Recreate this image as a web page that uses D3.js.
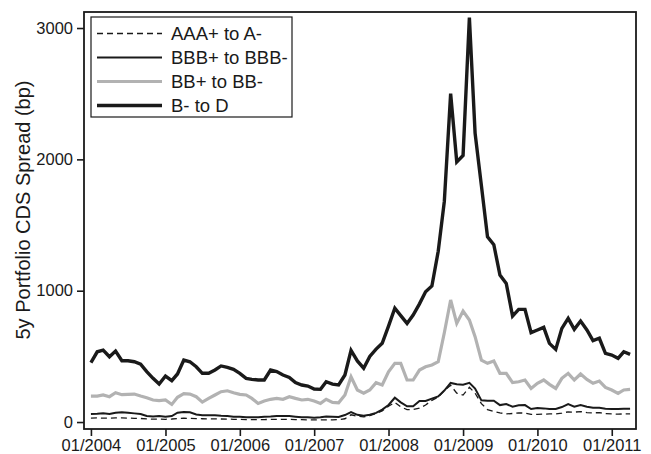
<!DOCTYPE html>
<html>
<head>
<meta charset="utf-8">
<script src="https://cdn.jsdelivr.net/npm/d3@7/dist/d3.min.js"></script>
<style>
  body { margin: 0; background: #fff; }
  text { font-family: "Liberation Sans", Arial, sans-serif; fill: #1a1a1a; }
</style>
</head>
<body>
<div id="chart"></div>
<script>
// monthly observations, 01/2004 .. 04/2011
const firstMonth = new Date(2004, 0, 1);
const lastMonth = new Date(2011, 3, 1);

const aaa = [30, 31, 30, 29, 31, 32, 30, 28, 27, 24, 22, 22, 21, 23, 27, 29, 28, 26, 25, 24,
  24, 23, 22, 21, 20, 19, 18, 18, 19, 20, 20, 21, 20, 19, 18, 17, 16, 16, 17, 17,
  18, 25, 55, 45, 40, 48, 65, 85, 120, 150, 115, 95, 95, 105, 130, 165, 190, 240, 280, 220,
  205, 265, 220, 140, 95, 80, 70, 62, 65, 70, 68, 58, 58, 60, 62, 62, 68, 78, 75, 80,
  72, 70, 72, 64, 62, 60, 62, 62];
const bbb = [61, 63, 66, 61, 71, 74, 71, 66, 61, 46, 43, 46, 41, 46, 71, 76, 74, 58, 51, 51,
  51, 48, 46, 41, 41, 36, 36, 36, 41, 43, 46, 46, 46, 41, 36, 36, 33, 36, 43, 41,
  38, 53, 76, 55, 48, 55, 70, 95, 130, 185, 150, 120, 120, 160, 160, 178, 195, 240, 298, 288,
  284, 298, 255, 165, 162, 162, 129, 137, 117, 127, 129, 99, 107, 104, 99, 99, 114, 137, 117, 129,
  117, 109, 109, 102, 99, 99, 102, 102];
const bb = [198, 198, 206, 193, 223, 208, 211, 213, 198, 185, 168, 163, 168, 134, 188, 216, 213, 193, 152, 180,
  206, 231, 238, 223, 211, 206, 180, 142, 160, 173, 180, 173, 193, 180, 168, 173, 160, 142, 173, 150,
  147, 206, 345, 244, 219, 244, 300, 282, 383, 447, 447, 320, 320, 396, 421, 434, 459, 680, 929, 751,
  845, 777, 650, 472, 447, 465, 371, 371, 300, 307, 320, 256, 295, 320, 287, 256, 333, 371, 320, 366,
  325, 295, 312, 264, 244, 218, 244, 249];
const bd = [452, 535, 548, 497, 540, 467, 467, 459, 441, 384, 333, 289, 350, 315, 366, 472, 459, 421, 371, 371,
  396, 427, 416, 401, 371, 333, 325, 320, 320, 396, 384, 358, 340, 300, 282, 274, 251, 249, 307, 289,
  282, 358, 545, 465, 410, 500, 555, 600, 730, 866, 810, 751, 815, 900, 992, 1036, 1300, 1680, 2500, 1980,
  2030, 3080, 2200, 1800, 1410, 1350, 1119, 1056, 807, 858, 858, 681, 701, 721, 599, 553, 713, 789, 706, 769,
  701, 620, 638, 523, 510, 485, 535, 515];

const seriesNames = ["AAA+ to A-", "BBB+ to BBB-", "BB+ to BB-", "B- to D"];
const yTicks = [0, 1000, 2000, 3000];

const months = d3.timeMonth.range(firstMonth, d3.timeMonth.offset(lastMonth, 1));

const series = [
  {name: seriesNames[0], values: aaa, color: "#1a1a1a", width: 1.3, dash: "6,4"},
  {name: seriesNames[1], values: bbb, color: "#1a1a1a", width: 2, dash: null},
  {name: seriesNames[2], values: bb, color: "#b2b2b2", width: 3.2, dash: null},
  {name: seriesNames[3], values: bd, color: "#1a1a1a", width: 3.4, dash: null}
];

const W = 651, H = 454;
const margin = {top: 12, right: 15, bottom: 25, left: 84};

const svg = d3.select("#chart").append("svg")
  .attr("width", W)
  .attr("height", H);

let xScale = d3.scaleTime()
  .domain([new Date(2003, 10, 28), new Date(2011, 3, 30)])
  .range([margin.left, W - margin.right]);

let yScale = d3.scaleLinear()
  .domain([-53, 3122])
  .range([H - margin.bottom, margin.top]);

// lines
let valueline = d3.line()
  .x((d, i) => xScale(months[i]))
  .y(d => yScale(d));

let lineCont = svg.append("g").attr("id", "lines");
lineCont.selectAll("path")
  .data(series)
  .enter()
  .append("path")
    .attr("d", d => valueline(d.values))
    .attr("fill", "none")
    .attr("stroke", d => d.color)
    .attr("stroke-width", d => d.width)
    .attr("stroke-dasharray", d => d.dash)
    .attr("stroke-linejoin", "miter");

// frame
svg.append("rect")
  .attr("x", margin.left)
  .attr("y", margin.top)
  .attr("width", W - margin.right - margin.left)
  .attr("height", H - margin.bottom - margin.top)
  .attr("fill", "none")
  .attr("stroke", "#1a1a1a")
  .attr("stroke-width", 1.8);

// axes
let xAxis = d3.axisBottom(xScale)
  .ticks(d3.timeYear.every(1))
  .tickFormat(d3.timeFormat("%m/%Y"))
  .tickSize(7)
  .tickPadding(3);

let xAxisCont = svg.append("g")
  .attr("class", "axis")
  .attr("transform", `translate(0, ${H - margin.bottom})`)
  .call(xAxis);

let yAxis = d3.axisLeft(yScale)
  .tickValues(yTicks)
  .tickFormat(d3.format("d"))
  .tickSize(7)
  .tickPadding(4);

let yAxisCont = svg.append("g")
  .attr("class", "axis")
  .attr("transform", `translate(${margin.left}, 0)`)
  .call(yAxis);

svg.selectAll(".axis .domain").remove();
svg.selectAll(".axis .tick line")
  .attr("stroke", "#1a1a1a")
  .attr("stroke-width", 1.6);
svg.selectAll(".axis .tick text")
  .style("font-size", "16.5px")
  .attr("fill", "#1a1a1a");

// y label
svg.append("text")
  .attr("transform", "translate(23, 210) rotate(-90)")
  .attr("text-anchor", "middle")
  .attr("dy", "0.35em")
  .style("font-size", "20px")
  .text("5y Portfolio CDS Spread (bp)");

// legend
let legend = svg.append("g").attr("id", "legend");
legend.append("rect")
  .attr("x", 91)
  .attr("y", 17)
  .attr("width", 201)
  .attr("height", 100)
  .attr("fill", "#fff")
  .attr("stroke", "#1a1a1a")
  .attr("stroke-width", 1.2);

let rows = legend.selectAll("g.row")
  .data(series)
  .enter()
  .append("g")
    .attr("class", "row")
    .attr("transform", (d, i) => `translate(0, ${33.5 + i * 24})`);

rows.append("line")
  .attr("x1", 97).attr("x2", 162)
  .attr("y1", 0).attr("y2", 0)
  .attr("stroke", d => d.color)
  .attr("stroke-width", d => d.width)
  .attr("stroke-dasharray", d => d.dash);

rows.append("text")
  .attr("x", 171)
  .attr("y", 0)
  .attr("dy", "0.35em")
  .style("font-size", "18.5px")
  .text(d => d.name);
</script>
</body>
</html>
